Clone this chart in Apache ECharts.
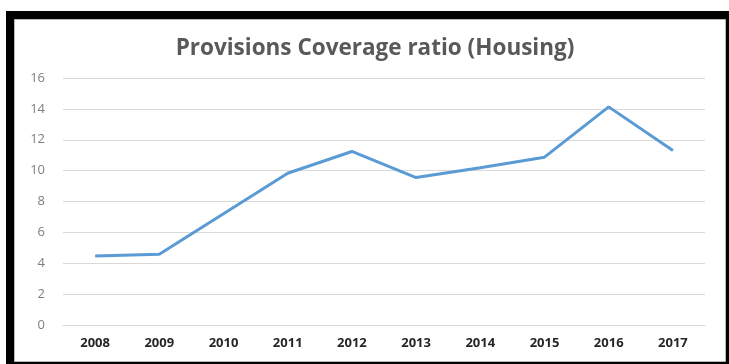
<!DOCTYPE html>
<html>
<head>
<meta charset="utf-8">
<script src="https://cdn.jsdelivr.net/npm/echarts@6/dist/echarts.min.js"></script>
<style>
  html, body { margin: 0; padding: 0; background: #ffffff; }
  #chart { width: 729px; height: 364px; }
</style>
</head>
<body>
<div id="chart"></div>
<script>
// Provisions coverage ratio for housing loans, by year
const years = ['2008', '2009', '2010', '2011', '2012', '2013', '2014', '2015', '2016', '2017'];
const coverageRatio = [4.47, 4.58, 7.2, 9.83, 11.24, 9.55, 10.18, 10.87, 14.13, 11.3];
const yTicks = { min: 0, max: 16, step: 2 };

const chart = echarts.init(document.getElementById('chart'), null, { renderer: 'canvas' });

chart.setOption({
  backgroundColor: '#ffffff',
  animation: false,
  title: {
    text: 'Provisions Coverage ratio (Housing)',
    left: 370,
    textAlign: 'center',
    top: 32,
    textStyle: {
      fontFamily: 'Open Sans',
      fontWeight: 'bold',
      fontSize: 22.5,
      color: '#595959'
    }
  },
  // frame around the chart area
  graphic: [
    {
      type: 'rect', z: -10, silent: true,
      shape: { x: 6, y: 11, width: 723, height: 353 },
      style: { fill: '#000000' }
    },
    {
      type: 'rect', z: -9, silent: true,
      shape: { x: 14.5, y: 19.5, width: 711, height: 342 },
      style: { fill: '#ffffff', stroke: '#b8b8b8', lineWidth: 1 }
    }
  ],
  grid: { left: 63, right: 24, top: 78, bottom: 39, containLabel: false },
  xAxis: {
    type: 'category',
    data: years,
    boundaryGap: true,
    axisLine: { show: true, lineStyle: { color: '#d9d9d9', width: 1 } },
    axisTick: { show: false },
    axisLabel: {
      margin: 12,
      fontFamily: 'Open Sans',
      fontWeight: 'bold',
      fontSize: 13,
      color: '#262626'
    }
  },
  yAxis: {
    type: 'value',
    min: yTicks.min,
    max: yTicks.max,
    interval: yTicks.step,
    axisLine: { show: false },
    axisTick: { show: false },
    splitLine: { lineStyle: { color: '#d9d9d9', width: 1 } },
    axisLabel: {
      margin: 18,
      fontFamily: 'Open Sans',
      fontSize: 13,
      color: '#7f7f7f'
    }
  },
  series: [{
    type: 'line',
    data: coverageRatio,
    symbol: 'none',
    lineStyle: { color: '#5b9bd5', width: 3 },
    itemStyle: { color: '#5b9bd5' }
  }]
});
</script>
</body>
</html>
